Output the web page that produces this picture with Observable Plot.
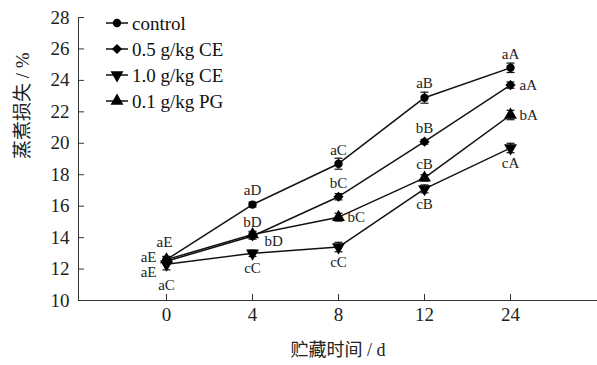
<!DOCTYPE html>
<html><head><meta charset="utf-8">
<script src="https://cdn.jsdelivr.net/npm/d3@7"></script>
<script src="https://cdn.jsdelivr.net/npm/@observablehq/plot@0.6"></script>
<style>
body{margin:0;background:#fff}
#chart svg{font-family:"Liberation Serif","Times New Roman","Noto Sans CJK SC",serif;}
</style>
</head><body><div id="chart"></div>
<script>
// ---- data ----
const days = ["0", "4", "8", "12", "24"];
const seriesNames = ["control", "0.5 g/kg CE", "1.0 g/kg CE", "0.1 g/kg PG"];
const controlLoss = [12.6, 16.1, 18.7, 22.9, 24.8];
const ce05Loss    = [12.5, 14.1, 16.6, 20.1, 23.7];
const ce10Loss    = [12.3, 13.0, 13.4, 17.1, 19.7];
const pg01Loss    = [12.6, 14.2, 15.3, 17.8, 21.8];
const controlErr = [0.2, 0.15, 0.35, 0.35, 0.3];
const ce05Err    = [0.15, 0.2, 0.2, 0.15, 0.2];
const ce10Err    = [0.35, 0.2, 0.3, 0.25, 0.3];
const pg01Err    = [0.2, 0.2, 0.25, 0.2, 0.3];
const controlSig = ["aE", "aD", "aC", "aB", "aA"];
const ce05Sig    = ["aE", "bD", "bC", "bB", "aA"];
const ce10Sig    = ["aC", "cC", "cC", "cB", "cA"];
const pg01Sig    = ["aE", "bD", "bC", "cB", "bA"];
const yTicks = [10, 12, 14, 16, 18, 20, 22, 24, 26, 28];
const xTitle = "贮藏时间 / d";
const yTitle = "蒸煮损失 / %";

// ---- styles (separate from data) ----
const W = 597, H = 365;
const mL = 78, mR = 0, mT = 17, mB = 65;
const seriesStyle = [
  {symbol: "circle", rotate: 0, r: 4.2},
  {symbol: "diamond2", rotate: 0, r: 4.6},
  {symbol: "triangle", rotate: 180, r: 4.8},
  {symbol: "triangle", rotate: 0, r: 4.8}
];
const labelPlace = [
  ["NW", "N", "N", "N", "N"],
  ["W", "N", "N", "N", "E"],
  ["S2", "S", "S", "S", "S"],
  ["SW", "SE", "E", "N", "E"]
];
const placeOffsets = {
  N:  {dx: 0, dy: -14, anchor: "middle"},
  NW: {dx: -2, dy: -17, anchor: "middle"},
  S:  {dx: 0, dy: 15, anchor: "middle"},
  S2: {dx: 0, dy: 21, anchor: "middle"},
  W:  {dx: -10, dy: -4, anchor: "end"},
  SW: {dx: -10, dy: 13, anchor: "end"},
  E:  {dx: 9, dy: 0, anchor: "start"},
  SE: {dx: 12, dy: 7, anchor: "start"}
};

const allLoss = [controlLoss, ce05Loss, ce10Loss, pg01Loss];
const allErr = [controlErr, ce05Err, ce10Err, pg01Err];
const allSig = [controlSig, ce05Sig, ce10Sig, pg01Sig];

const rows = [];
seriesNames.forEach((s, si) => days.forEach((d, di) => rows.push({
  series: s, si, day: d, value: allLoss[si][di], err: allErr[si][di],
  sig: allSig[si][di], place: labelPlace[si][di]
})));

const capSymbol = {draw(ctx) { ctx.moveTo(-4, 0); ctx.lineTo(4, 0); }};

const marks = [];
const plotW = W - mL - mR, plotH = H - mT - mB;
marks.push(Plot.frame({anchor: "left", stroke: "#333", strokeWidth: 1}));
marks.push(Plot.ruleY([10], {stroke: "#333", strokeWidth: 1}));
marks.push(Plot.ruleY(yTicks, {y: d => d, insetRight: plotW - 6, stroke: "#333"}));
marks.push(Plot.ruleX(days, {x: d => d, insetTop: plotH - 6, stroke: "#333"}));
marks.push(Plot.axisY({ticks: yTicks, tickSize: 0, tickPadding: 9, fontSize: 19, label: null, fill: "#222"}));
marks.push(Plot.axisX({tickSize: 0, tickPadding: 7, fontSize: 19, label: null, fill: "#222"}));
marks.push(Plot.text([yTitle], {frameAnchor: "left", dx: -56, rotate: -90, fontSize: 19, fill: "#222"}));
marks.push(Plot.text([xTitle], {frameAnchor: "bottom", dy: 55, fontSize: 18, fill: "#222"}));

seriesNames.forEach((s, si) => {
  const data = rows.filter(r => r.si === si);
  const st = seriesStyle[si];
  marks.push(Plot.line(data, {x: "day", y: "value", stroke: "#111", strokeWidth: 1.5}));
  marks.push(Plot.ruleX(data, {x: "day", y1: r => r.value - r.err, y2: r => r.value + r.err, stroke: "#111", strokeWidth: 1.2}));
  marks.push(Plot.dot(data, {x: "day", y: r => r.value - r.err, symbol: capSymbol, stroke: "#111", strokeWidth: 1.2}));
  marks.push(Plot.dot(data, {x: "day", y: r => r.value + r.err, symbol: capSymbol, stroke: "#111", strokeWidth: 1.2}));
  marks.push(Plot.dot(data, {x: "day", y: "value", symbol: st.symbol, r: st.r, rotate: st.rotate, fill: "#000", stroke: "none"}));
});

Object.entries(placeOffsets).forEach(([code, o]) => {
  const data = rows.filter(r => r.place === code);
  marks.push(Plot.text(data, {x: "day", y: "value", text: "sig", dx: o.dx, dy: o.dy, textAnchor: o.anchor, fontSize: 15, fill: "#222"}));
});

// legend drawn inside the frame
marks.push((index, scales, values, dims) => {
  const g = d3.create("svg:g").attr("font-size", 19).attr("fill", "#111").attr("text-anchor", "start");
  const symMap = {circle: d3.symbolCircle, diamond2: d3.symbolDiamond2, triangle: d3.symbolTriangle};
  seriesNames.forEach((s, i) => {
    const y = 23 + i * 26;
    const st = seriesStyle[i];
    g.append("line").attr("x1", 106).attr("x2", 128).attr("y1", y).attr("y2", y).attr("stroke", "#111").attr("stroke-width", 1.5);
    g.append("path").attr("d", d3.symbol(symMap[st.symbol], Math.PI * st.r * st.r)())
      .attr("transform", `translate(117,${y}) rotate(${st.rotate})`).attr("fill", "#000");
    g.append("text").attr("x", 132).attr("y", y).attr("dy", "0.35em").attr("text-anchor", "start").text(s);
  });
  return g.node();
});

const chart = Plot.plot({
  width: W, height: H,
  marginLeft: mL, marginRight: mR, marginTop: mT, marginBottom: mB,
  x: {type: "point", domain: days, padding: 1, axis: null},
  y: {domain: [10, 28], axis: null},
  marks
});
document.getElementById("chart").appendChild(chart);
</script>
</body></html>
